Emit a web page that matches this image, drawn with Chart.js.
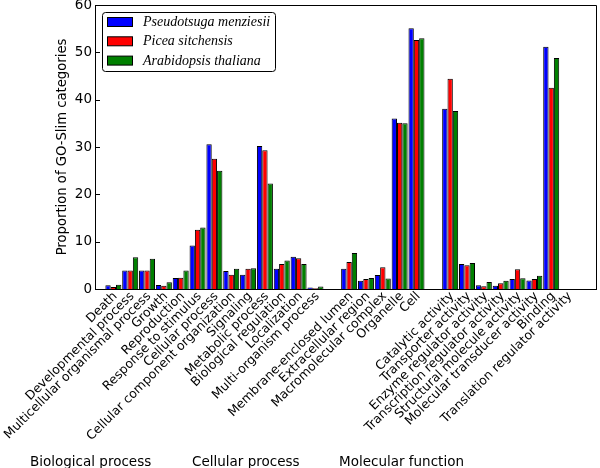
<!DOCTYPE html>
<html>
<head>
<meta charset="utf-8">
<script src="https://cdn.jsdelivr.net/npm/chart.js@4"></script>
<style>
  body { margin: 0; background: #fff; }
  #wrap { width: 600px; height: 468px; }
</style>
</head>
<body>
<div id="wrap"><canvas id="goChart"></canvas></div>
<script>
// GO-Slim categories, split into the three ontologies
const bioProcess = ["Death", "Developmental process", "Multicellular organismal process", "Growth",
  "Reproduction", "Response to stimulus", "Cellular process", "Cellular component organization",
  "Signaling", "Metabolic process", "Biological regulation", "Localization", "Multi-organism process"];
const cellComponent = ["Membrane-enclosed lumen", "Extracellular region", "Macromolecular complex",
  "Organelle", "Cell"];
const molFunction = ["Catalytic activity", "Transporter activity", "Enzyme regulator activity",
  "Transcription regulator activity", "Structural molecule activity", "Molecular transducer activity",
  "Binding", "Translation regulator activity"];
const groupNames = ["Biological process", "Cellular process", "Molecular function"];

const seriesNames = ["Pseudotsuga menziesii", "Picea sitchensis", "Arabidopsis thaliana"];

// proportion (%) per category, same order as above
const pseudotsuga = [0.8, 3.9, 3.9, 0.85, 2.3, 9.2, 30.6, 3.8, 3.0, 30.2, 4.3, 6.8, 0.3,
  4.3, 1.75, 2.95, 36.0, 55.1,
  38.1, 5.3, 0.8, 0.7, 2.1, 1.8, 51.2, 0];
const picea = [0.4, 3.9, 3.9, 0.7, 2.4, 12.5, 27.5, 3.0, 4.3, 29.3, 5.3, 6.5, 0.15,
  5.7, 2.1, 4.6, 35.1, 52.6,
  44.4, 5.0, 0.6, 1.2, 4.15, 2.1, 42.5, 0];
const arabidopsis = [0.9, 6.7, 6.4, 1.4, 3.9, 13.0, 25.0, 4.3, 4.4, 22.3, 6.0, 5.3, 0.55,
  7.6, 2.3, 2.2, 35.0, 53.0,
  37.6, 5.5, 1.5, 1.75, 2.25, 2.8, 48.8, 0];

const yTicks = [0, 10, 20, 30, 40, 50, 60];

// slot positions on the x axis, one empty slot between ontologies
const categories = [];
const slots = [];
let pos = 0;
[bioProcess, cellComponent, molFunction].forEach(function (grp) {
  grp.forEach(function (name) {
    categories.push(name);
    slots.push(pos);
    pos++;
  });
  pos++;
});

const colors = ["#0000ff", "#ff0000", "#008000"];
const FONT = "'DejaVu Sans', sans-serif";

const framePlugin = {
  id: "frame",
  afterDraw(chart) {
    const ctx = chart.ctx;
    const a = chart.chartArea;
    const y = chart.scales.y;
    ctx.save();
    ctx.strokeStyle = "#000";
    ctx.lineWidth = 1;
    ctx.beginPath();
    ctx.moveTo(a.left, a.top + 0.5);
    ctx.lineTo(a.right + 0.5, a.top + 0.5);
    ctx.lineTo(a.right + 0.5, a.bottom);
    // inward ticks on the left axis
    yTicks.forEach(function (v) {
      const py = Math.round(y.getPixelForValue(v)) + 0.5;
      ctx.moveTo(a.left, py);
      ctx.lineTo(a.left + 5, py);
    });
    ctx.stroke();

    // legend box in upper left of the plot
    const lx = a.left + 7, ly = a.top + 7, lw = 173, lh = 59;
    ctx.fillStyle = "#fff";
    ctx.beginPath();
    ctx.roundRect(lx + 0.5, ly + 0.5, lw, lh, 3);
    ctx.fill();
    ctx.stroke();
    ctx.font = "italic 14px 'Liberation Serif', serif";
    ctx.textBaseline = "middle";
    chart.data.datasets.forEach(function (ds, i) {
      const cy = ly + 10 + i * 19.3;
      ctx.fillStyle = ds.backgroundColor;
      ctx.fillRect(lx + 5.5, cy - 4.5, 25, 9);
      ctx.strokeRect(lx + 5.5, cy - 4.5, 25, 9);
      ctx.fillStyle = "#000";
      ctx.fillText(ds.label, lx + 41, cy + 0.5);
    });

    // ontology names under the tick labels
    ctx.font = "13.5px " + FONT;
    ctx.textBaseline = "alphabetic";
    ctx.textAlign = "left";
    const gx = [30, 192, 339];
    groupNames.forEach(function (g, i) {
      ctx.fillText(g, gx[i], 466);
    });
    ctx.restore();
  }
};

new Chart(document.getElementById("goChart"), {
  type: "bar",
  data: {
    labels: slots,
    datasets: [
      { label: seriesNames[0], data: pseudotsuga, backgroundColor: colors[0] },
      { label: seriesNames[1], data: picea, backgroundColor: colors[1] },
      { label: seriesNames[2], data: arabidopsis, backgroundColor: colors[2] }
    ]
  },
  options: {
    responsive: true,
    maintainAspectRatio: false,
    animation: false,
    layout: { padding: { top: 5, right: 4, left: 47, bottom: 0 } },
    datasets: {
      bar: {
        borderColor: "#000",
        borderWidth: 1,
        categoryPercentage: 0.95,
        barPercentage: 1
      }
    },
    scales: {
      x: {
        type: "linear",
        min: -1.09,
        max: 28.66,
        offset: false,
        grid: { display: false, drawTicks: false },
        border: { display: true, color: "#000", width: 1 },
        afterBuildTicks: function (scale) {
          scale.ticks = slots.map(function (v) { return { value: v }; });
        },
        afterFit: function (scale) {
          scale.height = 179;
          scale.paddingLeft = 0;
          scale.paddingRight = 0;
        },
        ticks: {
          autoSkip: false,
          minRotation: 45,
          maxRotation: 45,
          padding: 0,
          labelOffset: 2,
          color: "#000",
          font: { family: FONT, size: 12.5 },
          callback: function (value, index) { return categories[index]; }
        }
      },
      y: {
        min: 0,
        max: 60,
        grid: { display: false, drawTicks: false },
        border: { display: true, color: "#000", width: 1 },
        afterFit: function (scale) {
          scale.width = 48;
          scale.paddingTop = 0;
          scale.paddingBottom = 0;
        },
        ticks: {
          stepSize: 10,
          padding: 3,
          color: "#000",
          font: { family: FONT, size: 13.5 }
        },
        title: {
          display: true,
          text: "Proportion of GO-Slim categories",
          color: "#000",
          font: { family: FONT, size: 13.2 },
          padding: { top: 8, bottom: 0 }
        }
      }
    },
    plugins: {
      legend: { display: false },
      tooltip: { enabled: false }
    }
  },
  plugins: [framePlugin]
});
</script>
</body>
</html>
